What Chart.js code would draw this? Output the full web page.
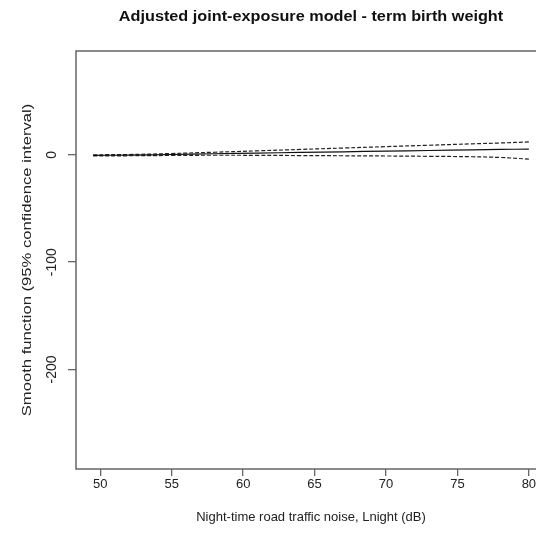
<!DOCTYPE html>
<html>
<head>
<meta charset="utf-8">
<script src="https://cdn.jsdelivr.net/npm/chart.js@4.4.0/dist/chart.umd.min.js"></script>
<style>
  html, body { margin: 0; padding: 0; background: #fff; overflow: hidden; }
  #wrap { width: 536px; height: 539px; overflow: hidden; }
</style>
</head>
<body>
<div id="wrap">
  <canvas id="smoothChart" width="560" height="539"></canvas>
</div>
<script>
// Smooth function values
const noiseLevels = [49.5, 52, 55, 58, 61, 64, 67, 70, 73, 76, 78, 80];
const smoothFit   = [-0.5, -0.3, 0.3, 1.0, 1.6, 2.2, 2.8, 3.4, 4.0, 4.6, 5.0, 5.3];
const upperCI     = [0.0, 0.3, 1.2, 2.4, 3.7, 5.0, 6.3, 7.6, 8.9, 10.2, 11.0, 12.0];
const lowerCI     = [-1.0, -0.9, -0.6, -0.4, -0.5, -0.7, -0.9, -1.1, -1.4, -1.8, -2.5, -4.0];

const xTicks = [50, 55, 60, 65, 70, 75, 80];
const yTicks = [0, -100, -200];

const chartTitle = 'Adjusted joint-exposure model - term birth weight';
const xTitle = 'Night-time road traffic noise, Lnight (dB)';
const yTitle = 'Smooth function (95% confidence interval)';

const fontFamily = '"Liberation Sans", Arial, sans-serif';
const textColor = '#222';
const axisColor = '#666';

function toPoints(values) {
    return noiseLevels.map((x, i) => ({ x: x, y: values[i] }));
}

// Title, y title (the original text is a bit stretched) and the box
const boxAndTitles = {
    id: 'boxAndTitles',
    afterDraw(chart) {
        const ctx = chart.ctx;
        const area = chart.chartArea;
        ctx.save();
        ctx.strokeStyle = axisColor;
        ctx.lineWidth = 1.5;
        ctx.strokeRect(area.left, area.top, area.right - area.left, area.bottom - area.top);

        ctx.fillStyle = '#111';
        ctx.font = 'bold 14px ' + fontFamily;
        ctx.textAlign = 'center';
        ctx.textBaseline = 'middle';
        ctx.save();
        ctx.translate((area.left + area.right) / 2, 17);
        ctx.scale(1.16, 1);
        ctx.fillText(chartTitle, 0, 0);
        ctx.restore();

        ctx.fillStyle = textColor;
        ctx.font = '13px ' + fontFamily;
        ctx.save();
        ctx.translate(27, (area.top + area.bottom) / 2);
        ctx.rotate(-Math.PI / 2);
        ctx.scale(1.28, 1);
        ctx.fillText(yTitle, 0, 0);
        ctx.restore();
        ctx.restore();
    }
};

const ctx = document.getElementById('smoothChart').getContext('2d');
new Chart(ctx, {
    type: 'line',
    data: {
        datasets: [
            {
                label: 'Smooth',
                data: toPoints(smoothFit),
                borderColor: '#111',
                borderWidth: 1.2,
                pointRadius: 0,
                tension: 0.4
            },
            {
                label: 'Upper 95% CI',
                data: toPoints(upperCI),
                borderColor: '#222',
                borderWidth: 1.2,
                borderDash: [4, 2],
                pointRadius: 0,
                tension: 0.4
            },
            {
                label: 'Lower 95% CI',
                data: toPoints(lowerCI),
                borderColor: '#222',
                borderWidth: 1.2,
                borderDash: [4, 2],
                pointRadius: 0,
                tension: 0.4
            }
        ]
    },
    options: {
        responsive: false,
        animation: false,
        layout: { padding: { top: 51, right: 14, left: 0, bottom: 0 } },
        plugins: {
            legend: { display: false },
            tooltip: { enabled: false }
        },
        scales: {
            x: {
                type: 'linear',
                min: 48.3,
                max: 81.2,
                afterBuildTicks: s => { s.ticks = xTicks.map(v => ({ value: v })); },
                afterFit: s => { s.height = 70; },
                grid: { display: true, drawOnChartArea: false, drawTicks: true, tickLength: 7, color: axisColor, lineWidth: 1.3 },
                border: { display: false },
                ticks: {
                    color: textColor,
                    padding: 1,
                    maxRotation: 0,
                    font: { family: fontFamily, size: 13 }
                },
                title: {
                    display: true,
                    text: xTitle,
                    color: textColor,
                    padding: { top: 0, bottom: 14 },
                    font: { family: fontFamily, size: 13 }
                }
            },
            y: {
                type: 'linear',
                min: -292.7,
                max: 96.7,
                afterBuildTicks: s => { s.ticks = yTicks.map(v => ({ value: v })); },
                afterFit: s => { s.width = 76; },
                grid: { display: true, drawOnChartArea: false, drawTicks: true, tickLength: 8, color: axisColor, lineWidth: 1.3 },
                border: { display: false },
                ticks: {
                    color: textColor,
                    padding: 2,
                    minRotation: 90,
                    maxRotation: 90,
                    crossAlign: 'center',
                    font: { family: fontFamily, size: 14 }
                }
            }
        }
    },
    plugins: [boxAndTitles]
});
</script>
</body>
</html>
